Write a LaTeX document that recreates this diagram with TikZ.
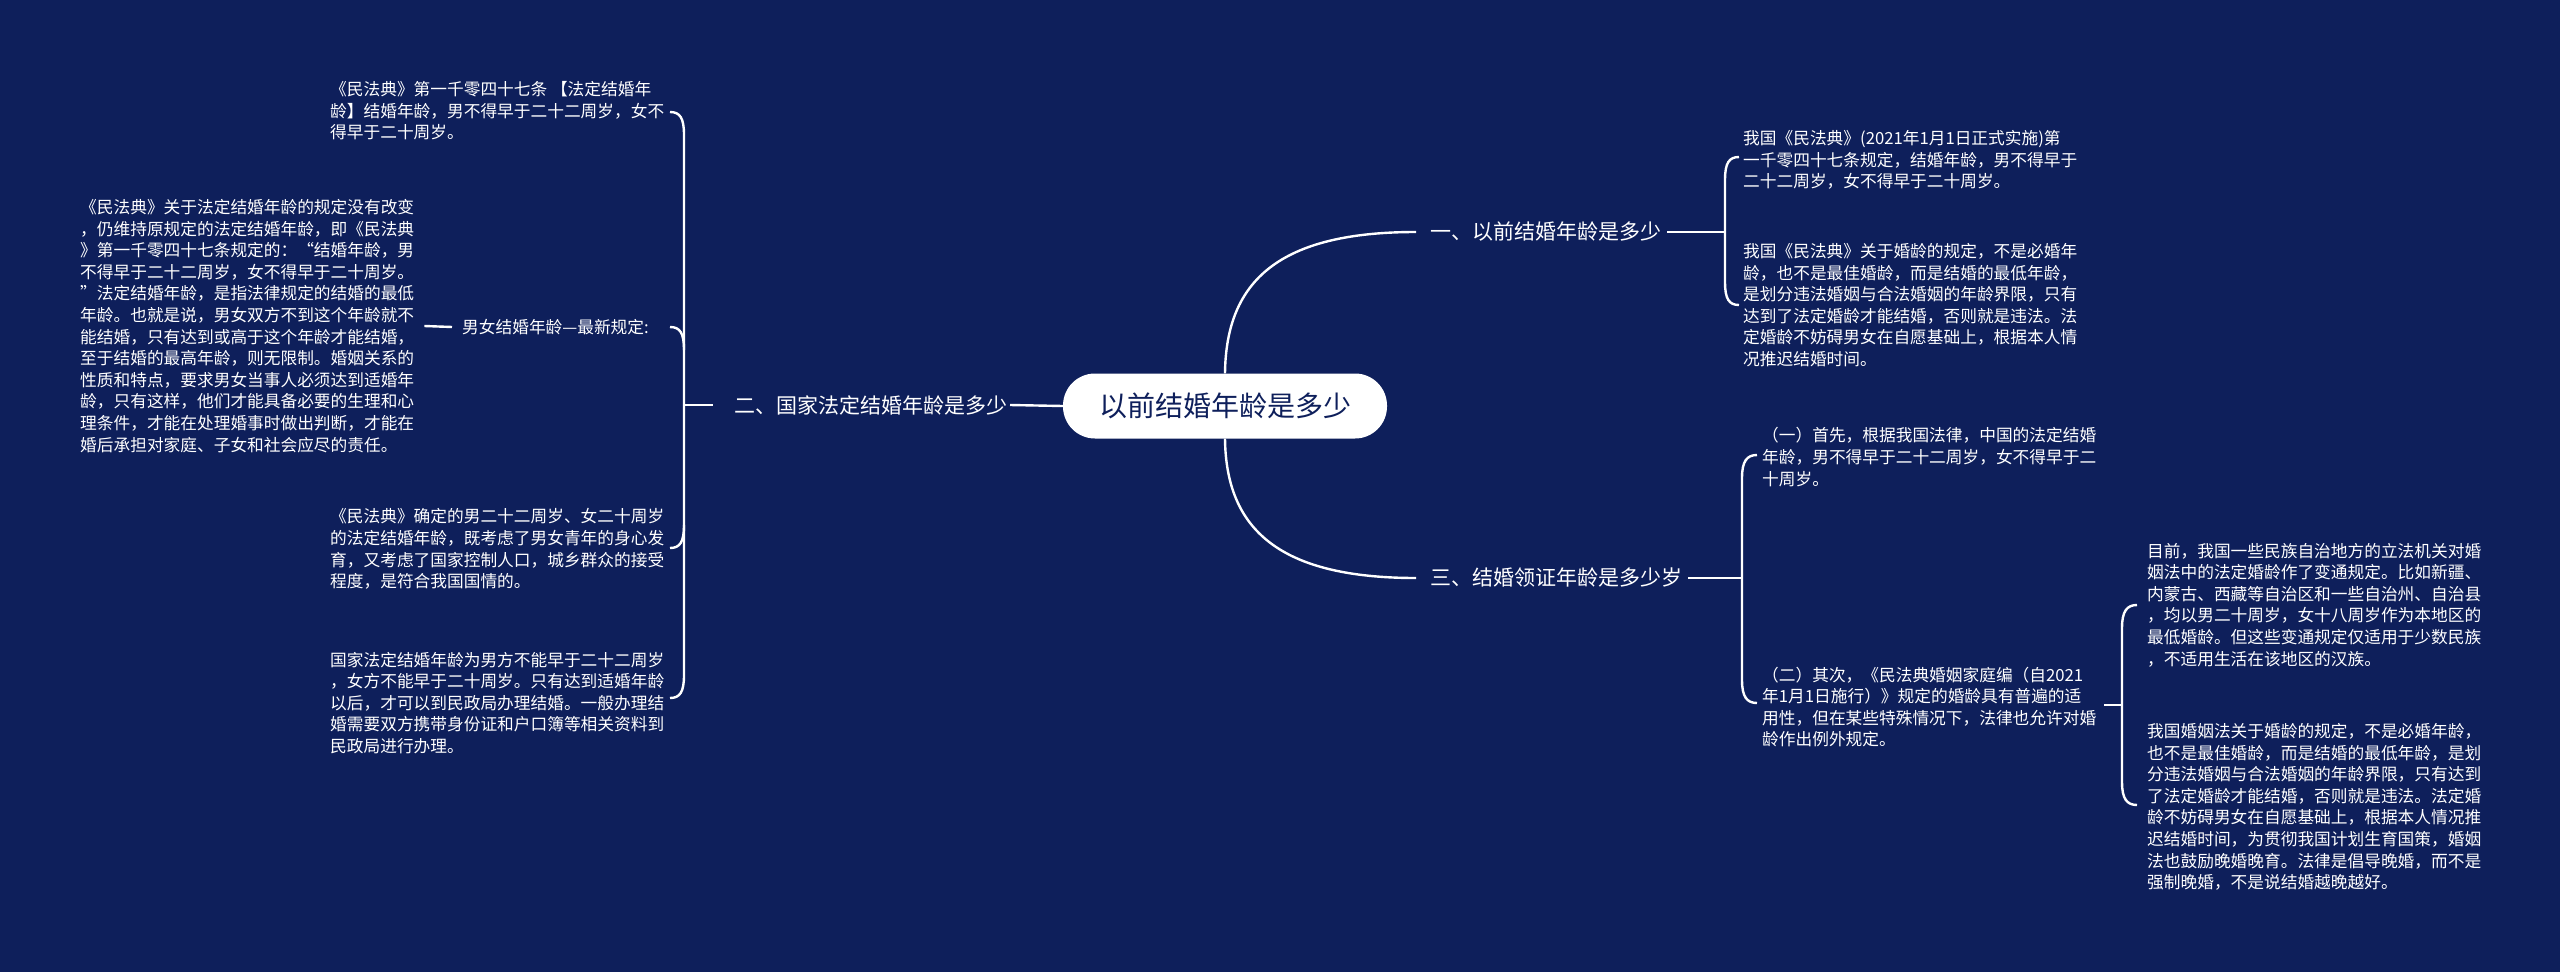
\documentclass[tikz,border=0pt]{standalone}
\usepackage{fontspec}
\setmainfont{Noto Sans CJK SC}
\definecolor{bg}{HTML}{0E1F5B}
\begin{document}
\begin{tikzpicture}[x=1pt,y=-1pt,
  conn/.style={draw=white,line width=2.4pt},
  leaf/.style={text=white,inner sep=0pt,align=left,font=\fontsize{16.7}{21.6}\selectfont},
  branch/.style={text=white,inner ysep=4pt,inner xsep=14pt,font=\fontsize{21}{25}\selectfont},
  root/.style={fill=white,text=bg,rounded corners=32pt,minimum width=324pt,minimum height=65pt,inner sep=0pt,font=\fontsize{28}{32}\selectfont}]
\fill[bg] (0,0) rectangle (2560,972);
\useasboundingbox (0,0) rectangle (2560,972);

\node[root] (ctr) at (1225,406) {以前结婚年龄是多少};
\node[branch,anchor=west] (b1) at (1416,232) {一、以前结婚年龄是多少};
\node[branch,anchor=west] (b3) at (1416,578) {三、结婚领证年龄是多少岁};
\node[branch,anchor=east,inner xsep=22pt] (b2) at (1030,405) {二、国家法定结婚年龄是多少};

% left children
\node[leaf,anchor=west] (c1) at (330,111) {《民法典》第一千零四十七条 【法定结婚年\\龄】结婚年龄，男不得早于二十二周岁，女不\\得早于二十周岁。};
\node[leaf,anchor=west,inner xsep=10pt] (c2) at (452,327) {男女结婚年龄—最新规定:};
\node[leaf,anchor=west] (para) at (80,326) {《民法典》关于法定结婚年龄的规定没有改变\\，仍维持原规定的法定结婚年龄，即《民法典\\》第一千零四十七条规定的：“结婚年龄，男\\不得早于二十二周岁，女不得早于二十周岁。\\”法定结婚年龄，是指法律规定的结婚的最低\\年龄。也就是说，男女双方不到这个年龄就不\\能结婚，只有达到或高于这个年龄才能结婚，\\至于结婚的最高年龄，则无限制。婚姻关系的\\性质和特点，要求男女当事人必须达到适婚年\\龄，只有这样，他们才能具备必要的生理和心\\理条件，才能在处理婚事时做出判断，才能在\\婚后承担对家庭、子女和社会应尽的责任。};
\node[leaf,anchor=west] (c3) at (330,549) {《民法典》确定的男二十二周岁、女二十周岁\\的法定结婚年龄，既考虑了男女青年的身心发\\育，又考虑了国家控制人口，城乡群众的接受\\程度，是符合我国国情的。};
\node[leaf,anchor=west] (c4) at (330,703) {国家法定结婚年龄为男方不能早于二十二周岁\\，女方不能早于二十周岁。只有达到适婚年龄\\以后，才可以到民政局办理结婚。一般办理结\\婚需要双方携带身份证和户口簿等相关资料到\\民政局进行办理。};

% right children
\node[leaf,anchor=west] (r1a) at (1743,160) {我国《民法典》(2021年1月1日正式实施)第\\一千零四十七条规定，结婚年龄，男不得早于\\二十二周岁，女不得早于二十周岁。};
\node[leaf,anchor=west] (r1b) at (1743,305) {我国《民法典》关于婚龄的规定，不是必婚年\\龄，也不是最佳婚龄，而是结婚的最低年龄，\\是划分违法婚姻与合法婚姻的年龄界限，只有\\达到了法定婚龄才能结婚，否则就是违法。法\\定婚龄不妨碍男女在自愿基础上，根据本人情\\况推迟结婚时间。};
\node[leaf,anchor=west] (r3a) at (1762,457) {（一）首先，根据我国法律，中国的法定结婚\\年龄，男不得早于二十二周岁，女不得早于二\\十周岁。};
\node[leaf,anchor=west] (r3b) at (1762,707) {（二）其次，《民法典婚姻家庭编（自2021\\年1月1日施行）》规定的婚龄具有普遍的适\\用性，但在某些特殊情况下，法律也允许对婚\\龄作出例外规定。};
\node[leaf,anchor=west] (g1) at (2147,605) {目前，我国一些民族自治地方的立法机关对婚\\姻法中的法定婚龄作了变通规定。比如新疆、\\内蒙古、西藏等自治区和一些自治州、自治县\\，均以男二十周岁，女十八周岁作为本地区的\\最低婚龄。但这些变通规定仅适用于少数民族\\，不适用生活在该地区的汉族。};
\node[leaf,anchor=west] (g2) at (2147,807) {我国婚姻法关于婚龄的规定，不是必婚年龄，\\也不是最佳婚龄，而是结婚的最低年龄，是划\\分违法婚姻与合法婚姻的年龄界限，只有达到\\了法定婚龄才能结婚，否则就是违法。法定婚\\龄不妨碍男女在自愿基础上，根据本人情况推\\迟结婚时间，为贯彻我国计划生育国策，婚姻\\法也鼓励晚婚晚育。法律是倡导晚婚，而不是\\强制晚婚，不是说结婚越晚越好。};

% center connectors
\draw[conn] (ctr.north) .. controls (1226,280) and (1280,232) .. (b1.west);
\draw[conn] (ctr.south) .. controls (1226,530) and (1280,578) .. (b3.west);
\draw[conn] (b2.east) ++(-20,0) coordinate (b2e) (b2e) -- (ctr.west);

% left bracket
\coordinate (Lm) at (684,405);
\draw[conn] (b2.west) -- (Lm);
\draw[conn] (670,112) .. controls (680,112) and (684,118) .. (684,135) -- (684,675) .. controls (684,692) and (680,698) .. (670,698);
\draw[conn] (670,327) .. controls (680,327) and (684,333) .. (684,350);
\draw[conn] (670,548) .. controls (680,548) and (684,542) .. (684,525);
\draw[conn] (para.east) ++(10,0) coordinate (pe) (pe) -- (c2.west);

% right bracket b1
\coordinate (R1m) at (1725,232);
\draw[conn] (b1.east) ++(-8,0) coordinate (b1e) (b1e) -- (R1m);
\draw[conn] (1739,157) .. controls (1729,157) and (1725,163) .. (1725,180) -- (1725,282) .. controls (1725,299) and (1729,305) .. (1739,305);

% right bracket b3
\coordinate (R3m) at (1742,578);
\draw[conn] (b3.east) ++(-8,0) coordinate (b3e) (b3e) -- (R3m);
\draw[conn] (1757,455) .. controls (1747,455) and (1742,461) .. (1742,478) -- (1742,680) .. controls (1742,697) and (1747,703) .. (1757,703);

% bracket r3b
\coordinate (Gm) at (2122,705);
\draw[conn] (r3b.east) ++(8,-2) coordinate (r3e) (r3e) -- (Gm);
\draw[conn] (2137,605) .. controls (2127,605) and (2122,611) .. (2122,628) -- (2122,782) .. controls (2122,799) and (2127,805) .. (2137,805);
\end{tikzpicture}
\end{document}
